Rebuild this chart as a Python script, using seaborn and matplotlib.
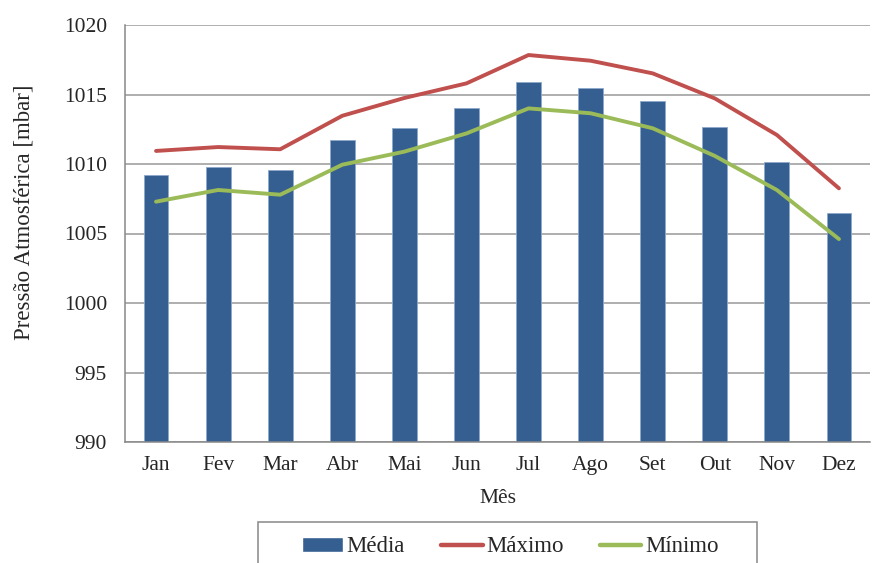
import seaborn as sns
import numpy as np
import matplotlib.pyplot as plt
from matplotlib.patches import Patch, Rectangle
from matplotlib.lines import Line2D

months = ["Jan", "Fev", "Mar", "Abr", "Mai", "Jun", "Jul", "Ago", "Set", "Out", "Nov", "Dez"]
media = [1009.2, 1009.8, 1009.55, 1011.7, 1012.57, 1014.0, 1015.9, 1015.5, 1014.53, 1012.65, 1010.15, 1006.5]
maximo = [1010.94, 1011.22, 1011.06, 1013.47, 1014.75, 1015.8, 1017.84, 1017.43, 1016.52, 1014.72, 1012.09, 1008.25]
minimo = [1007.29, 1008.13, 1007.79, 1009.95, 1010.89, 1012.2, 1014.0, 1013.65, 1012.57, 1010.58, 1008.13, 1004.6]

sns.set_style("white")
plt.rcParams['font.family'] = ['Liberation Serif', 'DejaVu Serif']

blue = "#365F91"
red = "#C0504D"
green = "#9BBB59"
grey = "#888888"
fs = 15.5

fig = plt.figure(figsize=(8.74, 5.63), dpi=100)
ax = fig.add_axes([125 / 874, 1 - 442 / 563, 745 / 874, 417 / 563])

sns.barplot(x=months, y=media, color=blue, width=0.4, saturation=1, ax=ax, zorder=2,
            edgecolor="#8EA9CC", linewidth=0.6)
sns.pointplot(x=months, y=maximo, color=red, markers="", linewidth=2.8, ax=ax, zorder=3)
sns.pointplot(x=months, y=minimo, color=green, markers="", linewidth=2.8, ax=ax, zorder=3)

ax.set_ylim(990, 1020)
ax.set_xlim(-0.5, 11.5)
ax.set_yticks(np.arange(990, 1021, 5))
ax.yaxis.grid(True, color="#999999", linewidth=1.1)
ax.set_axisbelow(True)

for s in ["top", "right"]:
    ax.spines[s].set_visible(False)
for s in ["left", "bottom"]:
    ax.spines[s].set_color(grey)
    ax.spines[s].set_linewidth(1.1)

ax.set_xticks(np.arange(-0.5, 12, 1), minor=True)
ax.tick_params(axis="x", which="major", length=0, labelsize=fs, pad=10)
ax.tick_params(axis="x", which="minor", length=6, color=grey, direction="out", width=1.1)
ax.tick_params(axis="y", length=0, labelsize=fs, pad=13)

ax.set_xlabel("Mês", fontsize=fs, labelpad=10)
ax.set_ylabel("Pressão Atmosférica [mbar]", fontsize=16.5)
ax.yaxis.set_label_coords(-0.122, 0.552)

# legend box, cut by the bottom edge like the original
fig.patches.append(Rectangle((258 / 874, -0.05), (757 - 258) / 874, 0.05 + (563 - 522) / 563,
                             transform=fig.transFigure, fill=False, edgecolor=grey, linewidth=1.1))
handles = [Patch(facecolor=blue, label="Média"),
           Line2D([0], [0], color=red, lw=3.2, label="Máximo"),
           Line2D([0], [0], color=green, lw=3.2, label="Mínimo")]
fig.legend(handles=handles, ncol=3, loc="center", bbox_to_anchor=(510 / 874, 1 - 547 / 563),
           frameon=False, fontsize=16.5, handlelength=1.8, handleheight=0.6, handletextpad=0.15,
           columnspacing=1.6, borderpad=0, borderaxespad=0)

fig.savefig("out.png", dpi=100)
